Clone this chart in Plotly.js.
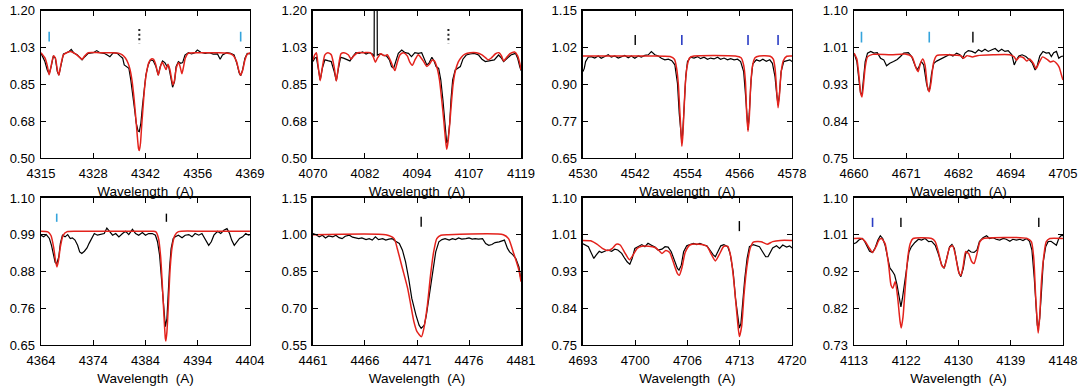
<!DOCTYPE html>
<html>
<head>
<meta charset="utf-8">
<script src="https://cdn.plot.ly/plotly-3.0.1.min.js"></script>
<style>
  html, body { margin: 0; padding: 0; background: #fff; }
  #chart { width: 1083px; height: 392px; }
</style>
</head>
<body>
<div id="chart"></div>
<script>
// axis ranges for the 8 panels (row by row)
const xLo = [4315, 4070, 4530, 4660, 4364, 4461, 4693, 4113];
const xHi = [4369, 4119, 4578, 4705, 4404, 4481, 4720, 4148];
const yLo = [0.50, 0.50, 0.65, 0.75, 0.65, 0.55, 0.75, 0.73];
const yHi = [1.20, 1.20, 1.15, 1.10, 1.10, 1.15, 1.10, 1.10];

const xTickText = [
  ["4315", "4328", "4342", "4356", "4369"],
  ["4070", "4082", "4094", "4107", "4119"],
  ["4530", "4542", "4554", "4566", "4578"],
  ["4660", "4671", "4682", "4694", "4705"],
  ["4364", "4374", "4384", "4394", "4404"],
  ["4461", "4466", "4471", "4476", "4481"],
  ["4693", "4700", "4706", "4713", "4720"],
  ["4113", "4122", "4130", "4139", "4148"],
];
const yTickText = [
  ["0.50", "0.68", "0.85", "1.03", "1.20"],
  ["0.50", "0.68", "0.85", "1.03", "1.20"],
  ["0.65", "0.77", "0.90", "1.02", "1.15"],
  ["0.75", "0.84", "0.93", "1.01", "1.10"],
  ["0.65", "0.76", "0.88", "0.99", "1.10"],
  ["0.55", "0.70", "0.85", "1.00", "1.15"],
  ["0.75", "0.84", "0.93", "1.01", "1.10"],
  ["0.73", "0.82", "0.92", "1.01", "1.10"],
];

// ---- panel 1 (H gamma) ----
const p1ObsWl = [4315.0,4316.0,4316.6,4317.1,4317.6,4318.2,4318.7,4319.2,4319.6,4320.1,4320.8,4321.6,4322.2,4322.8,4323.4,4324.4,4325.1,4325.6,4326.3,4327.2,4328.5,4329.4,4330.2,4331.3,4332.1,4332.8,4333.7,4334.7,4335.4,4336.1,4336.5,4337.1,4337.7,4338.2,4338.7,4339.2,4339.6,4340.1,4340.4,4340.8,4341.2,4341.6,4342.1,4342.7,4343.3,4344.0,4344.7,4345.3,4345.8,4346.4,4347.0,4347.5,4348.0,4348.5,4349.0,4349.5,4349.9,4350.5,4351.1,4351.6,4352.2,4353.1,4353.9,4354.8,4355.4,4356.3,4357.4,4358.5,4359.5,4360.6,4361.3,4361.9,4363.0,4364.0,4364.9,4365.6,4366.2,4366.6,4367.1,4367.7,4368.3,4369.0];
const p1ObsFlux = [0.997,0.958,0.918,0.899,0.934,0.985,0.974,0.910,0.894,0.942,0.994,1.000,1.005,1.016,1.000,0.989,0.974,0.966,0.981,0.997,1.000,1.010,1.000,0.997,0.989,0.981,1.000,0.997,0.985,0.974,0.942,0.934,0.926,0.871,0.807,0.728,0.665,0.628,0.625,0.665,0.744,0.823,0.894,0.942,0.966,0.962,0.934,0.894,0.934,0.961,0.953,0.937,0.934,0.886,0.836,0.863,0.934,0.958,0.950,0.953,0.989,1.000,0.994,1.000,1.013,1.002,0.997,1.000,0.993,0.994,0.969,0.989,1.000,0.997,0.989,0.950,0.905,0.890,0.918,0.974,0.997,0.994];
const p1ModWl = [4315.0,4316.0,4316.6,4317.1,4317.6,4318.2,4318.7,4319.2,4319.6,4320.1,4320.8,4321.6,4322.8,4323.8,4325.0,4325.6,4326.3,4327.2,4330.0,4333.0,4335.0,4336.0,4336.8,4337.5,4338.0,4338.5,4339.0,4339.5,4339.9,4340.2,4340.4,4340.7,4341.0,4341.4,4341.8,4342.3,4342.9,4343.5,4344.1,4344.7,4345.3,4345.8,4346.3,4346.9,4347.3,4347.8,4348.3,4348.7,4349.1,4349.5,4350.0,4350.6,4351.0,4351.4,4351.8,4352.3,4353.0,4355.0,4358.0,4361.0,4363.0,4364.5,4365.5,4366.2,4366.6,4367.1,4367.7,4368.3,4369.0];
const p1ModFlux = [1.000,0.975,0.940,0.895,0.935,0.985,0.975,0.920,0.893,0.940,0.990,1.000,1.005,0.995,0.978,0.968,0.985,1.000,1.000,1.000,0.998,0.990,0.975,0.950,0.920,0.870,0.790,0.690,0.600,0.545,0.535,0.570,0.650,0.750,0.840,0.910,0.955,0.970,0.968,0.940,0.893,0.930,0.955,0.935,0.920,0.945,0.920,0.880,0.847,0.870,0.930,0.952,0.930,0.900,0.930,0.975,0.997,1.000,1.000,1.000,0.998,0.990,0.960,0.910,0.893,0.915,0.965,0.993,1.000];

// ---- panel 2 (H delta) ----
const p2ObsWl = [4070.0,4070.4,4070.8,4071.3,4071.7,4072.2,4072.8,4073.5,4074.3,4075.0,4075.5,4076.0,4076.5,4077.2,4078.0,4078.7,4079.5,4080.1,4080.9,4081.7,4082.5,4083.2,4084.0,4084.4,4084.45,4085.1,4085.15,4085.4,4085.8,4086.5,4087.3,4088.0,4088.5,4089.0,4089.5,4090.1,4090.9,4091.7,4092.5,4093.2,4094.0,4094.8,4095.6,4096.2,4096.8,4097.3,4098.0,4098.5,4099.0,4099.6,4100.1,4100.6,4101.0,4101.3,4101.5,4101.8,4102.2,4102.5,4102.9,4103.5,4104.0,4104.7,4105.3,4106.1,4107.0,4108.0,4109.0,4109.8,4110.6,4111.8,4112.7,4113.7,4114.4,4114.9,4115.7,4116.6,4117.7,4118.2,4118.7,4119.0];
const p2ObsFlux = [0.958,0.974,0.978,0.910,0.871,0.926,0.966,0.962,0.958,0.910,0.867,0.926,0.978,0.974,0.966,0.961,0.985,1.000,0.997,1.004,0.994,1.000,0.994,0.981,1.350,1.350,0.989,0.992,0.994,0.989,0.985,0.966,0.934,0.926,0.958,0.997,1.013,1.000,0.997,0.981,1.000,0.997,1.000,0.974,0.942,0.950,0.978,0.962,0.934,0.926,0.871,0.776,0.665,0.593,0.570,0.586,0.665,0.776,0.871,0.918,0.926,0.934,0.969,0.989,0.994,0.997,0.989,0.969,0.958,0.961,0.966,0.989,0.974,0.958,0.974,0.989,0.997,0.974,0.934,0.915];
const p2ModWl = [4070.0,4070.4,4070.8,4071.2,4071.7,4072.2,4072.8,4073.5,4074.3,4075.0,4075.5,4076.0,4076.6,4077.3,4078.3,4079.0,4079.6,4080.5,4082.0,4083.5,4084.2,4084.7,4085.2,4086.0,4086.8,4087.5,4088.3,4088.9,4089.3,4089.8,4090.5,4091.3,4092.2,4092.8,4093.4,4094.0,4094.8,4095.3,4096.0,4096.8,4097.4,4098.1,4098.6,4099.2,4099.8,4100.3,4100.8,4101.2,4101.5,4101.8,4102.2,4102.6,4103.0,4103.5,4104.2,4105.0,4105.8,4107.0,4108.5,4109.8,4110.7,4111.3,4112.0,4113.0,4113.8,4114.4,4114.9,4115.5,4116.4,4117.5,4118.2,4118.7,4119.0];
const p2ModFlux = [0.965,0.990,1.000,0.940,0.867,0.930,0.990,1.000,0.990,0.930,0.865,0.935,0.995,1.000,0.990,0.970,0.985,1.000,1.000,1.000,0.980,0.955,0.975,0.995,0.985,0.990,0.960,0.930,0.915,0.950,0.990,1.000,0.985,0.955,0.940,0.965,0.990,0.980,0.960,0.935,0.945,0.965,0.960,0.930,0.870,0.780,0.680,0.590,0.541,0.575,0.660,0.760,0.850,0.910,0.955,0.980,0.993,1.000,1.000,0.990,0.975,0.966,0.975,0.995,1.000,0.985,0.960,0.975,0.995,1.003,0.985,0.950,0.918];

// ---- panel 3 (Si III) ----
const p3ObsWl = [4530.0,4530.3,4530.6,4531.2,4531.9,4532.7,4533.5,4534.2,4535.0,4535.8,4536.5,4537.3,4538.1,4538.8,4539.6,4540.4,4541.1,4541.9,4542.7,4543.4,4544.2,4545.0,4545.7,4546.5,4547.3,4548.0,4548.8,4549.6,4550.4,4551.1,4551.7,4552.1,4552.4,4552.7,4552.9,4553.2,4553.6,4554.0,4554.7,4555.5,4556.3,4557.0,4557.8,4558.6,4559.3,4560.1,4560.9,4561.6,4562.4,4563.2,4563.9,4564.7,4565.5,4566.2,4566.9,4567.3,4567.6,4567.9,4568.2,4568.6,4569.0,4569.8,4570.6,4571.3,4572.1,4572.9,4573.5,4574.1,4574.5,4574.8,4575.1,4575.5,4576.1,4576.9,4577.5,4578.0];
const p3ObsFlux = [0.943,0.954,0.977,0.992,0.994,0.989,0.996,0.988,0.994,1.000,0.992,0.996,0.989,0.994,0.998,0.990,0.996,0.988,0.996,0.992,0.998,1.000,1.011,1.000,0.996,0.988,0.983,0.985,0.980,0.966,0.903,0.802,0.734,0.702,0.734,0.824,0.926,0.977,0.992,0.989,0.994,0.987,0.992,0.985,0.989,0.986,0.992,0.985,0.989,0.983,0.987,0.983,0.985,0.977,0.943,0.869,0.790,0.745,0.802,0.915,0.969,0.983,0.979,0.985,0.978,0.983,0.971,0.926,0.864,0.830,0.864,0.943,0.977,0.980,0.983,0.977];
const p3ModWl = [4530.0,4545.0,4550.0,4551.0,4551.5,4551.9,4552.2,4552.5,4552.7,4552.9,4553.2,4553.5,4553.9,4554.5,4555.5,4565.0,4566.3,4566.9,4567.3,4567.6,4567.9,4568.2,4568.5,4568.9,4569.5,4570.5,4573.0,4573.7,4574.1,4574.5,4574.8,4575.1,4575.5,4576.0,4576.8,4578.0];
const p3ModFlux = [0.996,0.996,0.994,0.985,0.955,0.900,0.820,0.740,0.690,0.720,0.810,0.900,0.960,0.990,0.996,0.996,0.990,0.965,0.910,0.800,0.740,0.790,0.890,0.960,0.990,0.996,0.995,0.985,0.955,0.875,0.820,0.860,0.940,0.980,0.995,0.996];

// ---- panel 4 (He II 4686 region) ----
const p4ObsWl = [4660.0,4660.6,4661.1,4661.4,4661.7,4662.0,4662.4,4662.9,4663.6,4664.3,4665.0,4665.7,4666.4,4667.0,4667.7,4668.5,4669.3,4670.0,4670.7,4671.7,4672.4,4673.1,4673.6,4674.0,4674.5,4675.0,4675.6,4676.0,4676.3,4676.7,4677.2,4677.8,4678.5,4679.2,4679.9,4680.6,4681.3,4682.1,4682.8,4683.4,4683.9,4684.6,4685.4,4686.1,4686.8,4687.5,4688.2,4688.9,4689.7,4690.4,4691.1,4691.8,4692.5,4693.2,4694.0,4694.5,4695.0,4695.5,4696.2,4697.0,4697.8,4698.4,4699.0,4699.4,4700.0,4700.7,4701.4,4702.0,4702.5,4703.0,4703.6,4704.1,4704.6,4705.0];
const p4ObsFlux = [0.999,0.979,0.931,0.904,0.900,0.935,0.979,0.999,1.003,0.999,1.000,0.987,0.983,0.969,0.975,0.979,0.984,0.991,0.999,1.000,0.991,0.971,0.959,0.967,0.979,0.971,0.927,0.910,0.915,0.951,0.975,0.980,0.984,0.989,0.992,0.996,0.992,0.999,0.995,0.987,0.999,1.005,1.003,0.999,1.007,1.003,1.008,1.003,1.007,1.010,1.003,1.008,1.003,1.005,0.995,0.971,0.983,0.992,0.995,0.991,0.983,0.975,0.959,0.967,0.992,1.003,0.999,1.000,0.991,1.000,1.003,0.987,0.991,0.992];
const p4ModWl = [4660.0,4660.6,4661.1,4661.4,4661.7,4662.0,4662.4,4662.9,4664.0,4668.0,4671.0,4672.5,4673.3,4673.8,4674.3,4674.8,4675.3,4675.8,4676.2,4676.6,4677.1,4677.8,4680.0,4682.0,4683.0,4683.6,4684.3,4685.5,4686.5,4690.0,4693.5,4694.5,4695.0,4695.6,4696.5,4697.2,4697.8,4698.6,4699.2,4699.8,4700.6,4701.5,4702.3,4703.0,4703.6,4704.2,4704.6,4705.0];
const p4ModFlux = [0.999,0.985,0.940,0.905,0.895,0.920,0.965,0.990,0.996,0.995,0.997,0.990,0.965,0.955,0.975,0.985,0.970,0.920,0.907,0.930,0.975,0.993,0.995,0.994,0.993,0.987,0.993,0.990,0.993,0.995,0.995,0.990,0.982,0.990,0.988,0.980,0.985,0.975,0.962,0.975,0.990,0.985,0.978,0.980,0.975,0.965,0.950,0.935];

// ---- panel 5 (He I 4388) ----
const p5ObsWl = [4364.0,4364.5,4365.0,4365.6,4366.0,4366.4,4366.7,4367.0,4367.4,4367.7,4368.1,4368.6,4369.1,4369.6,4370.0,4370.5,4371.0,4371.4,4371.8,4372.3,4372.8,4373.2,4373.7,4374.2,4374.8,4375.4,4376.1,4376.6,4377.1,4377.7,4378.3,4378.9,4379.6,4380.2,4380.8,4381.5,4382.1,4382.7,4383.4,4384.0,4384.6,4385.3,4385.9,4386.3,4386.7,4387.0,4387.3,4387.6,4387.8,4388.1,4388.3,4388.6,4388.9,4389.3,4389.7,4390.3,4391.0,4391.6,4392.3,4392.9,4393.5,4394.2,4394.8,4395.4,4396.1,4396.6,4397.1,4397.8,4398.4,4399.0,4399.6,4400.1,4400.5,4401.0,4401.5,4402.0,4402.6,4403.2,4403.7,4404.0];
const p5ObsFlux = [0.986,0.981,0.988,0.976,0.955,0.920,0.903,0.899,0.920,0.961,0.986,0.981,0.988,0.976,0.978,0.971,0.955,0.935,0.930,0.937,0.947,0.961,0.976,0.991,0.986,0.988,0.991,1.008,0.998,0.986,0.991,0.981,0.991,0.998,0.988,1.004,0.991,0.986,0.994,0.986,0.991,0.991,0.986,0.966,0.925,0.864,0.793,0.731,0.706,0.731,0.803,0.884,0.945,0.976,0.981,0.986,0.978,0.986,0.988,0.981,0.991,0.986,0.991,0.976,0.955,0.966,0.986,0.998,0.991,1.001,1.006,0.991,0.971,0.955,0.966,0.976,0.981,0.991,0.986,0.988];
const p5ModWl = [4364.0,4365.3,4365.9,4366.4,4366.8,4367.05,4367.3,4367.7,4368.2,4369.0,4372.0,4380.0,4385.5,4386.0,4386.5,4386.9,4387.2,4387.5,4387.8,4387.9,4388.1,4388.4,4388.7,4389.1,4389.6,4390.3,4395.0,4404.0];
const p5ModFlux = [0.998,0.996,0.985,0.950,0.905,0.889,0.905,0.950,0.985,0.997,0.998,0.998,0.998,0.996,0.975,0.920,0.840,0.750,0.670,0.662,0.690,0.780,0.880,0.950,0.985,0.997,0.998,0.998];

// ---- panel 6 (He I 4471) ----
const p6ObsWl = [4461.0,4461.26,4461.6,4461.9,4462.2,4462.5,4462.9,4463.2,4463.5,4463.8,4464.1,4464.5,4464.8,4465.1,4465.4,4465.7,4466.1,4466.4,4466.7,4467.0,4467.3,4467.7,4468.0,4468.3,4468.6,4468.9,4469.3,4469.6,4469.9,4470.2,4470.5,4470.9,4471.2,4471.4,4471.7,4471.9,4472.2,4472.5,4472.8,4473.1,4473.4,4473.7,4474.1,4474.4,4474.7,4475.0,4475.3,4475.7,4476.0,4476.3,4476.6,4476.9,4477.3,4477.6,4477.9,4478.2,4478.5,4478.9,4479.2,4479.4,4479.7,4479.9,4480.2,4480.5,4480.8,4481.0];
const p6ObsFlux = [1.005,1.001,0.991,0.998,0.987,0.995,0.991,0.998,0.988,0.984,0.994,0.998,0.990,0.987,0.984,0.987,0.980,0.984,0.978,0.991,0.980,0.984,0.978,0.982,0.984,0.974,0.964,0.937,0.889,0.821,0.740,0.672,0.631,0.618,0.631,0.672,0.754,0.849,0.930,0.971,0.980,0.984,0.978,0.984,0.980,0.987,0.982,0.984,0.987,0.982,0.984,0.982,0.984,0.964,0.957,0.960,0.968,0.971,0.974,0.978,0.944,0.930,0.919,0.903,0.869,0.815];
const p6ModWl = [4461.0,4468.0,4468.8,4469.1,4469.6,4470.1,4470.4,4470.7,4471.0,4471.43,4471.66,4472.0,4472.3,4472.6,4472.9,4473.3,4474.0,4479.3,4479.8,4480.3,4480.8,4481.0];
const p6ModFlux = [1.000,1.000,0.984,0.944,0.862,0.781,0.713,0.645,0.604,0.584,0.618,0.713,0.835,0.930,0.984,0.998,1.000,1.000,0.984,0.923,0.855,0.808];

// ---- panel 7 (He I 4713) ----
const p7ObsWl = [4693.0,4693.35,4693.7,4694.1,4694.4,4694.7,4695.1,4695.4,4695.8,4696.2,4696.7,4697.1,4697.5,4698.0,4698.4,4698.7,4699.05,4699.35,4699.7,4700.1,4700.6,4701.0,4701.4,4701.9,4702.3,4702.7,4703.2,4703.6,4704.0,4704.4,4704.9,4705.2,4705.4,4705.7,4706.0,4706.4,4706.8,4707.3,4707.7,4708.1,4708.6,4709.0,4709.4,4709.8,4710.1,4710.4,4710.8,4711.2,4711.7,4712.0,4712.4,4712.7,4713.0,4713.2,4713.4,4713.6,4713.9,4714.2,4714.5,4715.0,4715.4,4715.8,4716.2,4716.6,4716.9,4717.2,4717.5,4718.0,4718.4,4718.8,4719.3,4719.7,4720.0];
const p7ObsFlux = [0.991,0.988,0.984,0.968,0.956,0.964,0.973,0.970,0.973,0.976,0.973,0.978,0.976,0.968,0.956,0.948,0.942,0.956,0.980,0.984,0.989,0.984,0.992,0.987,0.983,0.976,0.978,0.984,0.983,0.972,0.948,0.932,0.928,0.940,0.972,0.986,0.989,0.992,0.989,0.992,0.988,0.986,0.976,0.965,0.960,0.972,0.986,0.989,0.984,0.968,0.924,0.861,0.809,0.790,0.801,0.845,0.908,0.956,0.984,0.989,0.986,0.984,0.972,0.960,0.960,0.972,0.981,0.986,0.980,0.988,0.983,0.986,0.981];
const p7ModWl = [4693.0,4694.0,4694.8,4695.5,4696.2,4696.8,4697.3,4697.8,4698.4,4699.0,4699.5,4700.0,4700.6,4701.5,4702.3,4702.8,4703.2,4703.7,4704.2,4704.8,4705.2,4705.45,4705.8,4706.2,4706.8,4708.0,4709.0,4709.6,4710.1,4710.6,4711.2,4711.7,4712.1,4712.5,4712.9,4713.2,4713.5,4713.8,4714.2,4714.6,4715.0,4716.0,4716.8,4717.5,4718.5,4720.0];
const p7ModFlux = [0.999,0.998,0.990,0.980,0.975,0.980,0.990,0.988,0.970,0.953,0.965,0.980,0.985,0.985,0.982,0.975,0.968,0.975,0.970,0.940,0.920,0.916,0.935,0.970,0.988,0.990,0.985,0.965,0.950,0.965,0.985,0.985,0.960,0.900,0.820,0.770,0.795,0.870,0.940,0.980,0.995,0.996,0.990,0.996,0.999,0.999];

// ---- panel 8 (He I 4121 / 4144) ----
const p8ObsWl = [4113.0,4113.4,4113.8,4114.4,4114.8,4115.2,4115.6,4116.1,4116.5,4117.0,4117.4,4117.8,4118.2,4118.6,4119.0,4119.4,4119.8,4120.2,4120.6,4120.85,4121.1,4121.5,4121.8,4122.2,4122.6,4123.2,4123.8,4124.3,4124.9,4125.5,4126.0,4126.6,4127.1,4127.7,4128.1,4128.5,4129.0,4129.4,4129.8,4130.2,4130.6,4130.9,4131.3,4131.7,4132.2,4132.6,4133.1,4133.6,4134.0,4134.6,4135.2,4135.7,4136.3,4136.8,4137.4,4138.0,4138.5,4139.1,4139.6,4140.2,4140.8,4141.3,4141.9,4142.4,4142.8,4143.2,4143.5,4143.7,4143.85,4144.1,4144.4,4144.7,4145.1,4145.5,4146.0,4146.5,4146.9,4147.3,4147.7,4148.0];
const p8ObsFlux = [0.985,0.988,0.994,0.998,0.990,0.977,0.966,0.963,0.973,0.994,1.005,0.998,0.981,0.952,0.924,0.916,0.906,0.881,0.847,0.826,0.847,0.889,0.931,0.964,0.977,0.988,0.996,0.994,0.998,0.990,0.991,0.981,0.960,0.931,0.923,0.948,0.977,0.983,0.973,0.939,0.910,0.902,0.923,0.960,0.969,0.964,0.963,0.969,0.990,1.000,1.005,0.998,1.000,0.996,0.994,0.998,0.996,0.991,0.996,0.994,0.996,0.993,0.998,0.991,0.969,0.897,0.822,0.780,0.772,0.797,0.864,0.939,0.977,0.990,0.991,0.985,0.981,0.998,1.006,1.005];
const p8ModWl = [4113.0,4114.3,4114.9,4115.5,4116.1,4116.7,4117.2,4117.6,4118.2,4118.8,4119.2,4119.5,4119.9,4120.3,4120.7,4120.9,4121.2,4121.6,4122.0,4122.4,4122.9,4126.0,4126.6,4127.2,4127.7,4128.1,4128.5,4129.0,4129.5,4130.0,4130.5,4130.9,4131.3,4131.7,4132.2,4132.7,4133.1,4133.6,4134.1,4134.7,4142.0,4142.7,4143.1,4143.4,4143.7,4143.85,4144.1,4144.4,4144.8,4145.2,4145.8,4148.0];
const p8ModFlux = [0.998,0.998,0.990,0.975,0.963,0.978,0.995,0.998,0.985,0.930,0.880,0.873,0.890,0.850,0.790,0.773,0.800,0.880,0.950,0.985,0.998,0.998,0.990,0.960,0.930,0.925,0.945,0.975,0.980,0.955,0.915,0.905,0.930,0.965,0.960,0.940,0.935,0.960,0.990,0.998,0.998,0.990,0.950,0.860,0.785,0.760,0.800,0.890,0.955,0.990,0.998,0.998];

// line identification marks: wavelength + kind
const markWl = [
  [4317.1, 4340.4, 4366.6],
  [4101.9],
  [4542.0, 4552.7, 4567.9, 4574.8],
  [4661.6, 4676.2, 4685.6],
  [4367.0, 4388.0],
  [4471.4],
  [4713.2],
  [4116.1, 4120.85, 4143.95],
];
const markKind = [
  ["cyan", "dotted", "cyan"],
  ["dotted"],
  ["black", "blue", "blue", "blue"],
  ["cyan", "cyan", "black"],
  ["cyan", "black"],
  ["black"],
  ["black"],
  ["blue", "black", "black"],
];
const markLo = [1.053, 1.045, 1.033, 1.024, 1.027, 1.032, 1.021, 1.027];
const markHi = [1.100, 1.112, 1.067, 1.050, 1.052, 1.073, 1.045, 1.050];
const dotLo = 1.045, dotHi = 1.112;

const obsWl = [p1ObsWl, p2ObsWl, p3ObsWl, p4ObsWl, p5ObsWl, p6ObsWl, p7ObsWl, p8ObsWl];
const obsFlux = [p1ObsFlux, p2ObsFlux, p3ObsFlux, p4ObsFlux, p5ObsFlux, p6ObsFlux, p7ObsFlux, p8ObsFlux];
const modWl = [p1ModWl, p2ModWl, p3ModWl, p4ModWl, p5ModWl, p6ModWl, p7ModWl, p8ModWl];
const modFlux = [p1ModFlux, p2ModFlux, p3ModFlux, p4ModFlux, p5ModFlux, p6ModFlux, p7ModFlux, p8ModFlux];

const markStyle = {
  cyan: { color: "#35a4dc", width: 1.6, dash: "solid" },
  blue: { color: "#2a3cc4", width: 1.6, dash: "solid" },
  black: { color: "#000000", width: 1.4, dash: "solid" },
  dotted: { color: "#222222", width: 2, dash: "2px,2.6px" },
};

const colDomains = [[0.0379, 0.2308], [0.2890, 0.4811], [0.5383, 0.7313], [0.7886, 0.9815]];
const rowDomains = [[0.597, 0.973], [0.120, 0.495]];

const ticks5 = (lo, hi) => [0, 1, 2, 3, 4].map(i => lo + (hi - lo) * i / 4);

const data = [];
const layout = {
  width: 1083,
  height: 392,
  margin: { l: 0, r: 0, t: 0, b: 0 },
  paper_bgcolor: "#ffffff",
  plot_bgcolor: "#ffffff",
  showlegend: false,
  font: { family: "Liberation Sans, Arial, sans-serif", color: "#000" },
};

for (let i = 0; i < 8; i++) {
  const n = i === 0 ? "" : String(i + 1);
  const xa = "x" + n, ya = "y" + n;

  data.push({
    x: obsWl[i], y: obsFlux[i], xaxis: xa, yaxis: ya,
    mode: "lines", type: "scatter",
    line: { color: "#000000", width: 1.2 },
    hoverinfo: "skip",
  });
  data.push({
    x: modWl[i], y: modFlux[i], xaxis: xa, yaxis: ya,
    mode: "lines", type: "scatter",
    line: { color: "#e3221c", width: 1.5, shape: "spline", smoothing: 0.6 },
    hoverinfo: "skip",
  });

  markWl[i].forEach((w, k) => {
    const kind = markKind[i][k];
    const st = markStyle[kind];
    const lo = kind === "dotted" ? dotLo : markLo[i];
    const hi = kind === "dotted" ? dotHi : markHi[i];
    data.push({
      x: [w, w], y: [hi, lo], xaxis: xa, yaxis: ya,
      mode: "lines", type: "scatter",
      line: { color: st.color, width: st.width, dash: st.dash },
      hoverinfo: "skip",
    });
  });

  const common = {
    showline: true, linecolor: "#000", linewidth: 1.5, mirror: "allticks",
    ticks: "inside", ticklen: 5, tickwidth: 1, tickcolor: "#000",
    showgrid: false, zeroline: false,
    tickfont: { size: 13, family: "Liberation Sans, Arial, sans-serif" },
  };

  layout["xaxis" + n] = Object.assign({}, common, {
    domain: colDomains[i % 4],
    anchor: ya,
    range: [xLo[i], xHi[i]],
    tickvals: ticks5(xLo[i], xHi[i]),
    ticktext: xTickText[i],
    ticklabelstandoff: 3,
    title: { text: "Wavelength  (A)", font: { size: 13.5 }, standoff: 6 },
  });
  layout["yaxis" + n] = Object.assign({}, common, {
    domain: rowDomains[Math.floor(i / 4)],
    anchor: xa,
    range: [yLo[i], yHi[i]],
    tickvals: ticks5(yLo[i], yHi[i]),
    ticktext: yTickText[i],
    ticklabelstandoff: 2,
  });
}

Plotly.newPlot("chart", data, layout, { staticPlot: true });
</script>
</body>
</html>
